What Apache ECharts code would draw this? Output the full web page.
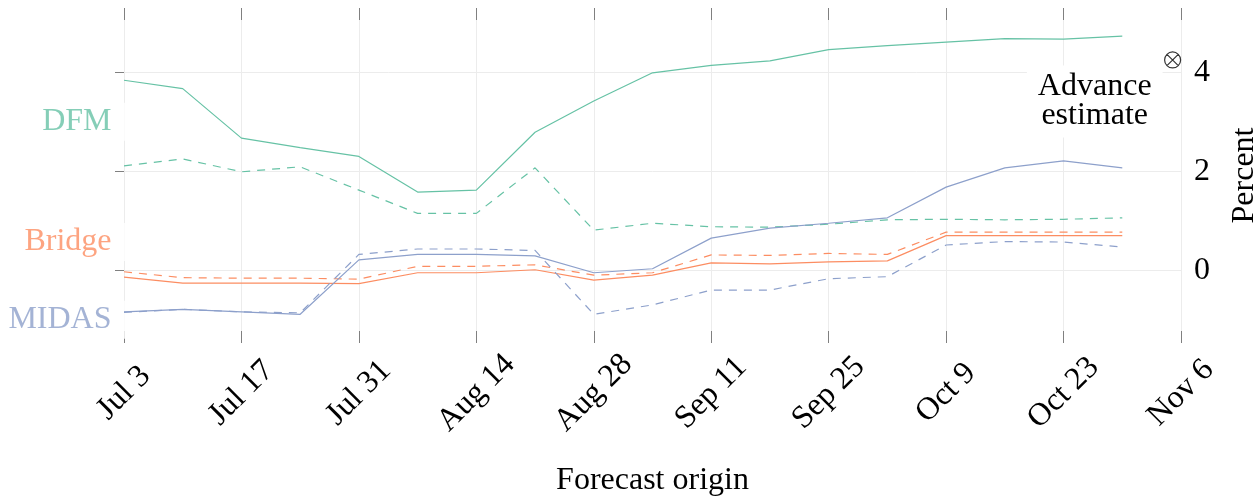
<!DOCTYPE html>
<html>
<head>
<meta charset="utf-8">
<script src="https://cdn.jsdelivr.net/npm/echarts@6/dist/echarts.min.js"></script>
<style>
  html, body { margin: 0; padding: 0; background: #fff; }
  #chart { width: 1257px; height: 500px; }
</style>
</head>
<body>
<div id="chart"></div>
<script>
// Weekly forecast origins
const origins = ['Jul 3', 'Jul 10', 'Jul 17', 'Jul 24', 'Jul 31', 'Aug 7', 'Aug 14', 'Aug 21', 'Aug 28',
  'Sep 4', 'Sep 11', 'Sep 18', 'Sep 25', 'Oct 2', 'Oct 9', 'Oct 16', 'Oct 23', 'Oct 30'];

// Nowcasts (percent), solid and dashed variants per model
const dfm = [3.84, 3.67, 2.67, 2.48, 2.30, 1.58, 1.62, 2.79, 3.42, 3.99, 4.14, 4.23, 4.46, 4.54, 4.61, 4.68, 4.67, 4.73];
const dfmDashed = [2.11, 2.25, 1.99, 2.09, 1.62, 1.15, 1.15, 2.07, 0.81, 0.95, 0.88, 0.87, 0.93, 1.02, 1.03, 1.02, 1.03, 1.06];
const bridge = [-0.14, -0.26, -0.26, -0.26, -0.27, -0.05, -0.05, 0.01, -0.20, -0.10, 0.15, 0.13, 0.17, 0.19, 0.70, 0.70, 0.70, 0.70];
const bridgeDashed = [-0.03, -0.15, -0.16, -0.16, -0.18, 0.08, 0.08, 0.11, -0.10, -0.05, 0.31, 0.30, 0.34, 0.32, 0.77, 0.77, 0.77, 0.77];
const midas = [-0.84, -0.79, -0.84, -0.89, 0.21, 0.32, 0.32, 0.29, -0.05, 0.03, 0.65, 0.85, 0.95, 1.06, 1.68, 2.07, 2.21, 2.07];
const midasDashed = [-0.85, -0.79, -0.84, -0.86, 0.32, 0.43, 0.43, 0.40, -0.89, -0.70, -0.40, -0.40, -0.17, -0.13, 0.51, 0.58, 0.57, 0.47];

// Axis ticks
const xTickLabels = ['Jul 3', 'Jul 17', 'Jul 31', 'Aug 14', 'Aug 28', 'Sep 11', 'Sep 25', 'Oct 9', 'Oct 23', 'Nov 6'];
const yTicks = [0, 2, 4];

// Model name labels beside the left edge
const modelNames = ['DFM', 'Bridge', 'MIDAS'];
const modelLabelValues = [3.0, 0.57, -1.0];

// Advance estimate marker and its note
const advanceMarker = { date: 'Nov 5', value: 4.25 };
const advanceNote = { date: 'Oct 26', value: 3.47, text: 'Advance\nestimate' };

const COLORS = { DFM: '#66c2a5', Bridge: '#fc8d62', MIDAS: '#8da0cb' };
const FONT = "'Liberation Serif', 'DejaVu Serif', serif";
const DASH = [8, 7];

// Days since Jul 3 for a "Mon D" label
const monthStart = { Jul: 0, Aug: 31, Sep: 62, Oct: 92, Nov: 123 };
function dayOf(label) {
  const [m, d] = label.split(' ');
  return monthStart[m] + Number(d) - 3;
}
const X_MAX = dayOf(xTickLabels[xTickLabels.length - 1]);
const Y_MIN = -1.47, Y_MAX = 5.3;

function pairs(values) {
  return origins.map((o, i) => [dayOf(o), values[i]]);
}

function lineSeries(name, values, dashed) {
  return {
    name: name + (dashed ? ' (dashed)' : ''),
    type: 'line',
    data: pairs(values),
    showSymbol: false,
    symbol: 'none',
    z: 4,
    lineStyle: { color: COLORS[name], width: 1.2, type: dashed ? DASH : 'solid' },
    animation: false
  };
}

const tickStyle = { color: '#808080', width: 1 };

const option = {
  backgroundColor: '#fff',
  animation: false,
  grid: { left: 124, right: 76, top: 8, bottom: 157, containLabel: false, outerBoundsMode: 'none' },
  xAxis: [
    {
      type: 'value', position: 'bottom', min: 0, max: X_MAX, interval: 14,
      axisLine: { show: false, onZero: false },
      axisTick: { show: true, inside: true, length: 12, lineStyle: tickStyle },
      splitLine: { show: true, showMinLine: true, showMaxLine: true, lineStyle: { color: '#ececec', width: 1 } },
      axisLabel: {
        show: true, rotate: 45, align: 'center', verticalAlign: 'middle', margin: 50,
        showMinLabel: true, showMaxLabel: true, hideOverlap: false,
        fontFamily: FONT, fontSize: 32, color: '#000',
        formatter: v => xTickLabels[Math.round(v / 14)]
      },
      name: 'Forecast origin', nameLocation: 'middle', nameGap: 122,
      nameTextStyle: { fontFamily: FONT, fontSize: 32, color: '#000' }
    },
    {
      type: 'value', position: 'top', min: 0, max: X_MAX, interval: 14,
      axisLine: { show: false, onZero: false },
      axisTick: { show: true, inside: true, length: 12, lineStyle: tickStyle },
      splitLine: { show: false },
      axisLabel: { show: false }
    }
  ],
  yAxis: [
    {
      type: 'value', position: 'left', min: Y_MIN, max: Y_MAX,
      axisLine: { show: false, onZero: false },
      axisTick: { show: true, inside: false, length: 9, customValues: yTicks, lineStyle: tickStyle },
      axisLabel: { show: false },
      splitLine: { show: false }
    },
    {
      type: 'value', position: 'right', min: Y_MIN, max: Y_MAX,
      axisLine: { show: false, onZero: false },
      axisTick: { show: true, inside: true, length: 10, customValues: yTicks, lineStyle: tickStyle },
      axisLabel: {
        show: true, customValues: yTicks, margin: 13,
        fontFamily: FONT, fontSize: 32, color: '#000'
      },
      splitLine: { show: false },
      name: 'Percent', nameLocation: 'middle', nameRotate: 90, nameGap: 48,
      nameTextStyle: { fontFamily: FONT, fontSize: 32, color: '#000' }
    }
  ],
  series: [
    // horizontal grid lines at the labelled values
    {
      name: 'grid', type: 'line', data: [], z: 1, silent: true,
      markLine: {
        z: 1, silent: true, symbol: 'none', animation: false,
        label: { show: false },
        lineStyle: { color: '#ececec', width: 1, type: 'solid' },
        data: yTicks.map(v => ({ yAxis: v }))
      }
    },
    // model names
    {
      name: 'model labels', type: 'scatter', z: 3, silent: true, clip: false,
      symbolSize: 1, itemStyle: { color: 'rgba(0,0,0,0)' },
      data: modelNames.map((n, i) => ({
        value: [0, modelLabelValues[i]], name: n, label: { color: COLORS[n] }
      })),
      label: {
        show: true, position: 'left', distance: -2,
        formatter: p => p.name,
        fontFamily: FONT, fontSize: 32,
        backgroundColor: '#fff', padding: [3, 14, 3, 4]
      },
      animation: false
    },
    // advance estimate note
    {
      name: 'advance note', type: 'scatter', z: 3, silent: true, clip: false,
      symbolSize: 1, itemStyle: { color: 'rgba(0,0,0,0)' },
      data: [[dayOf(advanceNote.date), advanceNote.value]],
      label: {
        show: true, position: 'inside', offset: [6, 3],
        formatter: advanceNote.text,
        fontFamily: FONT, fontSize: 32, lineHeight: 29, color: '#000', align: 'center',
        textBorderWidth: 0, opacity: 1,
        backgroundColor: '#fff', padding: [6, 11, 8, 11]
      },
      animation: false
    },
    // advance estimate marker
    {
      name: 'advance marker', type: 'scatter', z: 5, silent: true, clip: false,
      symbol: 'path://M0,-10A10,10 0 1,1 0,10A10,10 0 1,1 0,-10ZM-7.07,-7.07L7.07,7.07M-7.07,7.07L7.07,-7.07',
      symbolSize: 16,
      itemStyle: { color: 'rgba(0,0,0,0)', borderColor: '#000', borderWidth: 1.2 },
      data: [[dayOf(advanceMarker.date), advanceMarker.value]],
      animation: false
    },
    lineSeries('DFM', dfm, false),
    lineSeries('DFM', dfmDashed, true),
    lineSeries('Bridge', bridge, false),
    lineSeries('Bridge', bridgeDashed, true),
    lineSeries('MIDAS', midas, false),
    lineSeries('MIDAS', midasDashed, true)
  ]
};

const chart = echarts.init(document.getElementById('chart'), null, { renderer: 'canvas' });
chart.setOption(option);
</script>
</body>
</html>
